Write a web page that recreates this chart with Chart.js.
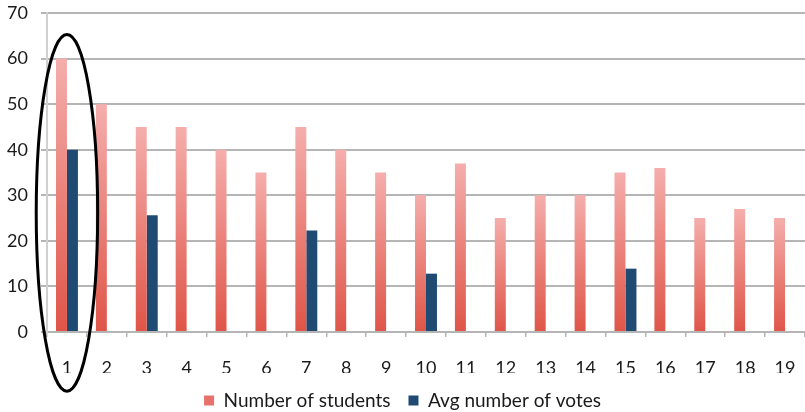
<!DOCTYPE html>
<html>
<head>
<meta charset="utf-8">
<script src="https://cdn.jsdelivr.net/npm/chart.js@4"></script>
<style>
  html, body { margin: 0; padding: 0; background: #ffffff; }
  #wrap { width: 805px; height: 412px; }
</style>
</head>
<body>
<div id="wrap"><canvas id="c" width="805" height="412"></canvas></div>
<script>
// Session numbers along the bottom
const sessions = ['1','2','3','4','5','6','7','8','9','10','11','12','13','14','15','16','17','18','19'];
// Students attending each session
const students = [60, 50, 45, 45, 40, 35, 45, 40, 35, 30, 37, 25, 30, 30, 35, 36, 25, 27, 25];
// Average votes, only recorded for some sessions
const avgVotes = [40, null, 25.6, null, null, null, 22.3, null, null, 12.8, null, null, null, null, 13.9, null, null, null, null];
// Value axis ticks
const yTicks = [0, 10, 20, 30, 40, 50, 60, 70];

const FONT = 'Lato, "Open Sans", sans-serif';
const RED_TOP = '#f5aeac';
const RED_BOTTOM = '#df5548';
const RED_KEY = '#e9716b';
const BLUE = '#1f4a72';

// Each student bar fades from pale pink at its top to deep red at the axis
function studentFill(ctx) {
  const chart = ctx.chart;
  const y = chart.scales.y;
  if (!y || ctx.type !== 'data') return RED_KEY;
  const v = ctx.raw;
  const top = y.getPixelForValue(v);
  const bottom = y.getPixelForValue(0);
  if (!isFinite(top) || !isFinite(bottom) || top === bottom) return RED_KEY;
  const g = chart.ctx.createLinearGradient(0, top, 0, bottom);
  g.addColorStop(0, RED_TOP);
  g.addColorStop(1, RED_BOTTOM);
  return g;
}

// Hand-drawn style ring around the first session
const ringPlugin = {
  id: 'ring',
  afterDraw(chart) {
    const x = chart.scales.x, y = chart.scales.y;
    const ctx = chart.ctx;
    const cx = x.getPixelForValue(0);
    const step = (x.right - x.left) / sessions.length;
    const top = y.getPixelForValue(65.3);
    const bottom = y.getPixelForValue(-13);
    ctx.save();
    ctx.beginPath();
    ctx.ellipse(cx, (top + bottom) / 2, step * 0.77, (bottom - top) / 2, 0, 0, Math.PI * 2);
    ctx.lineWidth = 3;
    ctx.strokeStyle = '#000000';
    ctx.stroke();
    ctx.restore();
  }
};

new Chart(document.getElementById('c'), {
  type: 'bar',
  data: {
    labels: sessions,
    datasets: [
      { label: 'Number of students', data: students, backgroundColor: studentFill, borderWidth: 0 },
      { label: 'Avg number of votes', data: avgVotes, backgroundColor: BLUE, borderWidth: 0 }
    ]
  },
  options: {
    responsive: false,
    animation: false,
    devicePixelRatio: 1,
    layout: { padding: { top: 13, right: 0, left: 0, bottom: -8 } },
    datasets: { bar: { categoryPercentage: 0.55, barPercentage: 1.0 } },
    plugins: {
      tooltip: { enabled: false },
      legend: {
        position: 'bottom',
        labels: {
          font: { family: FONT, size: 19 },
          color: '#1a1a1a',
          boxWidth: 10,
          boxHeight: 10,
          padding: 18,
          generateLabels(chart) {
            const items = Chart.defaults.plugins.legend.labels.generateLabels(chart);
            items[0].fillStyle = RED_KEY;
            items[1].fillStyle = BLUE;
            items.forEach(it => { it.lineWidth = 0; it.strokeStyle = 'rgba(0,0,0,0)'; });
            return items;
          }
        }
      }
    },
    scales: {
      x: {
        grid: { offset: true, drawOnChartArea: false, drawTicks: true, tickLength: 5, color: '#b5b5b5', lineWidth: 1.5 },
        border: { display: true, color: '#b5b5b5', width: 2 },
        ticks: { font: { family: FONT, size: 18 }, color: '#1a1a1a', padding: 20, maxRotation: 0 },
        afterFit(s) { s.height = 41; s.paddingLeft = 0; s.paddingRight = 0; }
      },
      y: {
        min: 0,
        max: 70,
        afterBuildTicks(s) { s.ticks = yTicks.map(v => ({ value: v })); },
        grid: { color: '#b5b5b5', lineWidth: 2, tickLength: 6 },
        border: { display: true, color: '#d0d0d0', width: 2 },
        ticks: { font: { family: FONT, size: 18 }, color: '#1a1a1a', padding: 13 },
        afterFit(s) { s.width = 47; s.paddingTop = 0; s.paddingBottom = 0; }
      }
    }
  },
  plugins: [ringPlugin]
});
</script>
</body>
</html>
